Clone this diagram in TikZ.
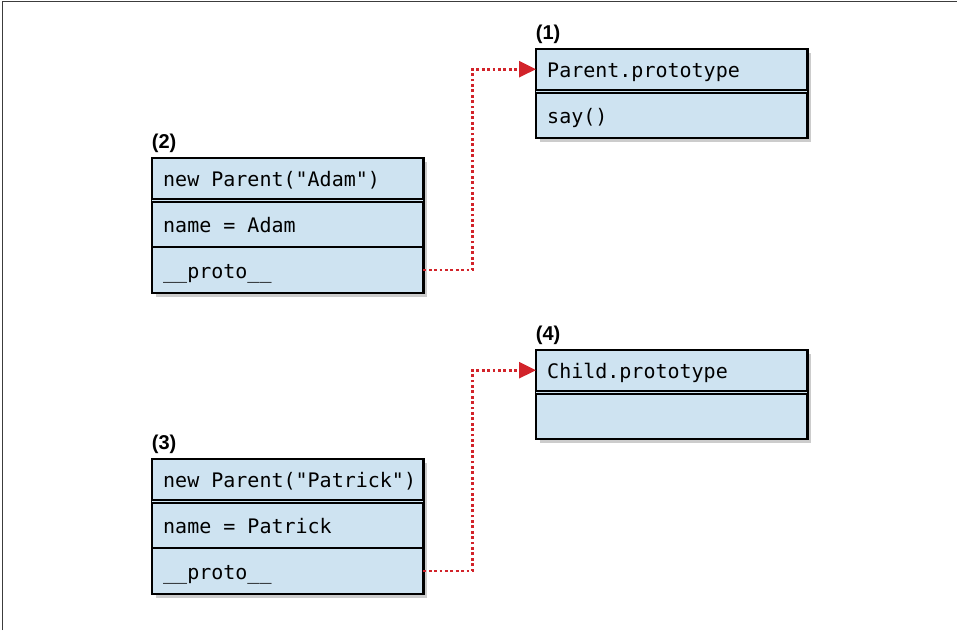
\documentclass[tikz,border=0pt]{standalone}
\usepackage{fontspec}
\setmonofont[WordSpace={1,0,0}]{DejaVu Sans Mono}
\newfontfamily\tagfont{Liberation Sans}
\usetikzlibrary{positioning,fit,shadows,backgrounds,arrows.meta}
\definecolor{boxblue}{RGB}{206,227,241}
\definecolor{linkred}{RGB}{210,35,42}
\definecolor{edgegray}{RGB}{60,60,60}
\newcommand\code[1]{\makebox[249pt][l]{#1}}
\begin{document}
\begin{tikzpicture}[x=1pt,y=-1pt,
  cell/.style={minimum width=271pt,inner xsep=11pt,inner ysep=0pt,text height=20pt,text depth=4pt,font=\ttfamily\fontsize{20}{24}\selectfont},
  objbox/.style={draw,line width=2.5pt,fill=boxblue,inner sep=0pt,drop shadow={shadow xshift=4pt,shadow yshift=-4pt,opacity=.4}},
  divider/.style={line width=2.5pt},
  dbl/.style={draw=black,line width=1.8pt,double=boxblue,double distance=1.8pt},
  tag/.style={font=\tagfont\bfseries\fontsize{20}{22}\selectfont,inner sep=0pt,anchor=south west},
  link/.style={linkred,line width=2.8pt,dash pattern=on 2.8pt off 2.6pt,-{Triangle[length=17pt,width=16pt]}}]
  \useasboundingbox (0,0) rectangle (957,630);
  \draw[edgegray,line width=1.5pt] (2.5,630) -- (2.5,1.5) -- (957,1.5);

  \node[cell,minimum height=40pt,anchor=north west] (ph) at (536,49) {\code{Parent.prototype}};
  \node[cell,minimum height=44pt,below=4pt of ph] (say) {\code{say()}};

  \node[cell,minimum height=40pt,anchor=north west] (ah) at (152,158) {\code{new Parent("Adam")}};
  \node[cell,minimum height=44pt,below=4pt of ah] (aname) {\code{name = Adam}};
  \node[cell,minimum height=46pt,below=0pt of aname] (aproto) {\code{\_\_proto\_\_}};

  \node[cell,minimum height=40pt,anchor=north west] (ch) at (536,350) {\code{Child.prototype}};
  \node[cell,minimum height=44pt,below=4pt of ch] (cbody) {\code{}};

  \node[cell,minimum height=40pt,anchor=north west] (pth) at (152,459) {\code{new Parent("Patrick")}};
  \node[cell,minimum height=44pt,below=4pt of pth] (pname) {\code{name = Patrick}};
  \node[cell,minimum height=46pt,below=0pt of pname] (pproto) {\code{\_\_proto\_\_}};

  \begin{scope}[on background layer]
    \node[objbox,fit=(ph)(say)] (parent) {};
    \node[objbox,fit=(ah)(aproto)] (adam) {};
    \node[objbox,fit=(ch)(cbody)] (child) {};
    \node[objbox,fit=(pth)(pproto)] (patrick) {};
  \end{scope}

  \draw[dbl] ([yshift=2pt]say.north west) -- ([yshift=2pt]say.north east);
  \draw[dbl] ([yshift=2pt]aname.north west) -- ([yshift=2pt]aname.north east);
  \draw[dbl] ([yshift=2pt]cbody.north west) -- ([yshift=2pt]cbody.north east);
  \draw[dbl] ([yshift=2pt]pname.north west) -- ([yshift=2pt]pname.north east);
  \draw[divider] (aproto.north west) -- (aproto.north east);
  \draw[divider] (pproto.north west) -- (pproto.north east);

  \node[tag] (t1) at ([xshift=1pt,yshift=4pt]parent.north west) {(1)};
  \node[tag] (t2) at ([xshift=1pt,yshift=4pt]adam.north west) {(2)};
  \node[tag] (t3) at ([xshift=1pt,yshift=4pt]patrick.north west) {(3)};
  \node[tag] (t4) at ([xshift=1pt,yshift=4pt]child.north west) {(4)};

  \draw[link] (aproto.east) -- ++(49,0) |- (ph.west);
  \draw[link] (pproto.east) -- ++(49,0) |- (ch.west);
\end{tikzpicture}
\end{document}
